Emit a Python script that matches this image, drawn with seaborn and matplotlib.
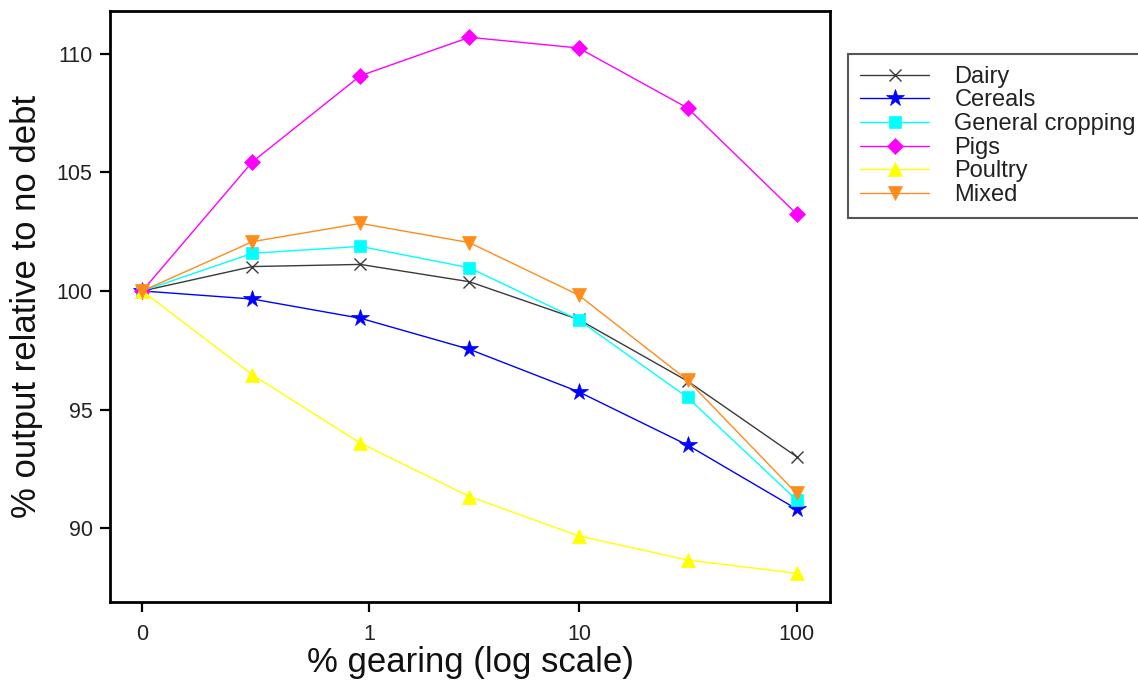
import numpy as np
import pandas as pd
import seaborn as sns
import matplotlib
matplotlib.use('Agg')
import matplotlib.pyplot as plt
from matplotlib.ticker import NullLocator

# gearing values (%), the first point is "no debt"
gearing = [0, 0.22, 0.9, 3.06, 9.9, 31.5, 99.9]

# % output relative to no debt
dairy = [100, 101.03, 101.12, 100.39, 98.80, 96.20, 93.01]
cereals = [100, 99.66, 98.85, 97.54, 95.75, 93.50, 90.80]
general_cropping = [100, 101.59, 101.88, 100.98, 98.78, 95.51, 91.18]
pigs = [100, 105.45, 109.08, 110.70, 110.25, 107.72, 103.25]
poultry = [100, 96.46, 93.58, 91.33, 89.67, 88.65, 88.09]
mixed = [100, 102.08, 102.85, 102.04, 99.83, 96.24, 91.46]

series_names = ['Dairy', 'Cereals', 'General cropping', 'Pigs', 'Poultry', 'Mixed']
series_values = [dairy, cereals, general_cropping, pigs, poultry, mixed]

x_ticks = [0, 1, 10, 100]
x_tick_labels = ['0', '1', '10', '100']
y_ticks = [90, 95, 100, 105, 110]

# styles for every series
colors = ['#3a3a3a', '#0000ff', '#00ffff', '#ff00ff', '#ffff00', '#ff8c1a']
markers = ['x', '*', 's', 'D', '^', 'v']
marker_sizes = [9, 13, 9, 8, 10, 10]

sns.set_theme(style='white')
plt.rcParams['font.family'] = ['Liberation Sans', 'DejaVu Sans']

fig = plt.figure(figsize=(11.38, 6.93), dpi=100)
ax = fig.add_axes([110 / 1138, 1 - 602 / 693, 720 / 1138, 591 / 693])

#plotting each series
for name, values, c, m, ms in zip(series_names, series_values, colors, markers, marker_sizes):
    sns.lineplot(x=gearing, y=values, color=c, marker=m, markersize=ms,
                 markeredgecolor=c, markeredgewidth=1.0 if m == 'x' else 0.5,
                 linewidth=1.0, label=name, ax=ax)

if ax.get_legend() is not None:
    ax.get_legend().remove()

#log scale shifted so that 0 can be shown
def fwd(x):
    return np.log10(np.asarray(x, dtype=float) + 0.1)

def inv(y):
    return 10 ** np.asarray(y, dtype=float) - 0.1

ax.set_xscale('function', functions=(fwd, inv))
ax.set_xlim(10 ** -1.148 - 0.1, 10 ** 2.153 - 0.1)
ax.set_ylim(86.88, 111.81)
ax.set_xticks(x_ticks)
ax.set_xticklabels(x_tick_labels)
ax.set_yticks(y_ticks)
ax.xaxis.set_minor_locator(NullLocator())
ax.yaxis.set_minor_locator(NullLocator())

for sp in ax.spines.values():
    sp.set_visible(True)
    sp.set_color('black')
    sp.set_linewidth(2.0)

ax.tick_params(axis='both', which='major', direction='out', length=7.5, width=1.6,
               color='black', labelsize=15.5, labelcolor='#222222', left=True, bottom=True)
ax.tick_params(axis='x', pad=8)
ax.tick_params(axis='y', pad=5)

ax.set_xlabel('% gearing (log scale)', fontsize=25, color='#111111', labelpad=1)
ax.set_ylabel('% output relative to no debt', fontsize=25, color='#111111', labelpad=10)

#legend outside on the right
handles, labels = ax.get_legend_handles_labels()
leg = fig.legend(handles, labels, loc='upper left', bbox_to_anchor=(848 / 1138, 1 - 54 / 693),
                 borderaxespad=0, fontsize=17, frameon=True, fancybox=False, framealpha=1,
                 edgecolor='#555555', handlelength=2.95, handletextpad=1.05, labelspacing=0.07,
                 borderpad=0.5)
leg.get_frame().set_linewidth(1.5)
for t in leg.get_texts():
    t.set_color('#222222')

fig.savefig('out.png', dpi=100)
